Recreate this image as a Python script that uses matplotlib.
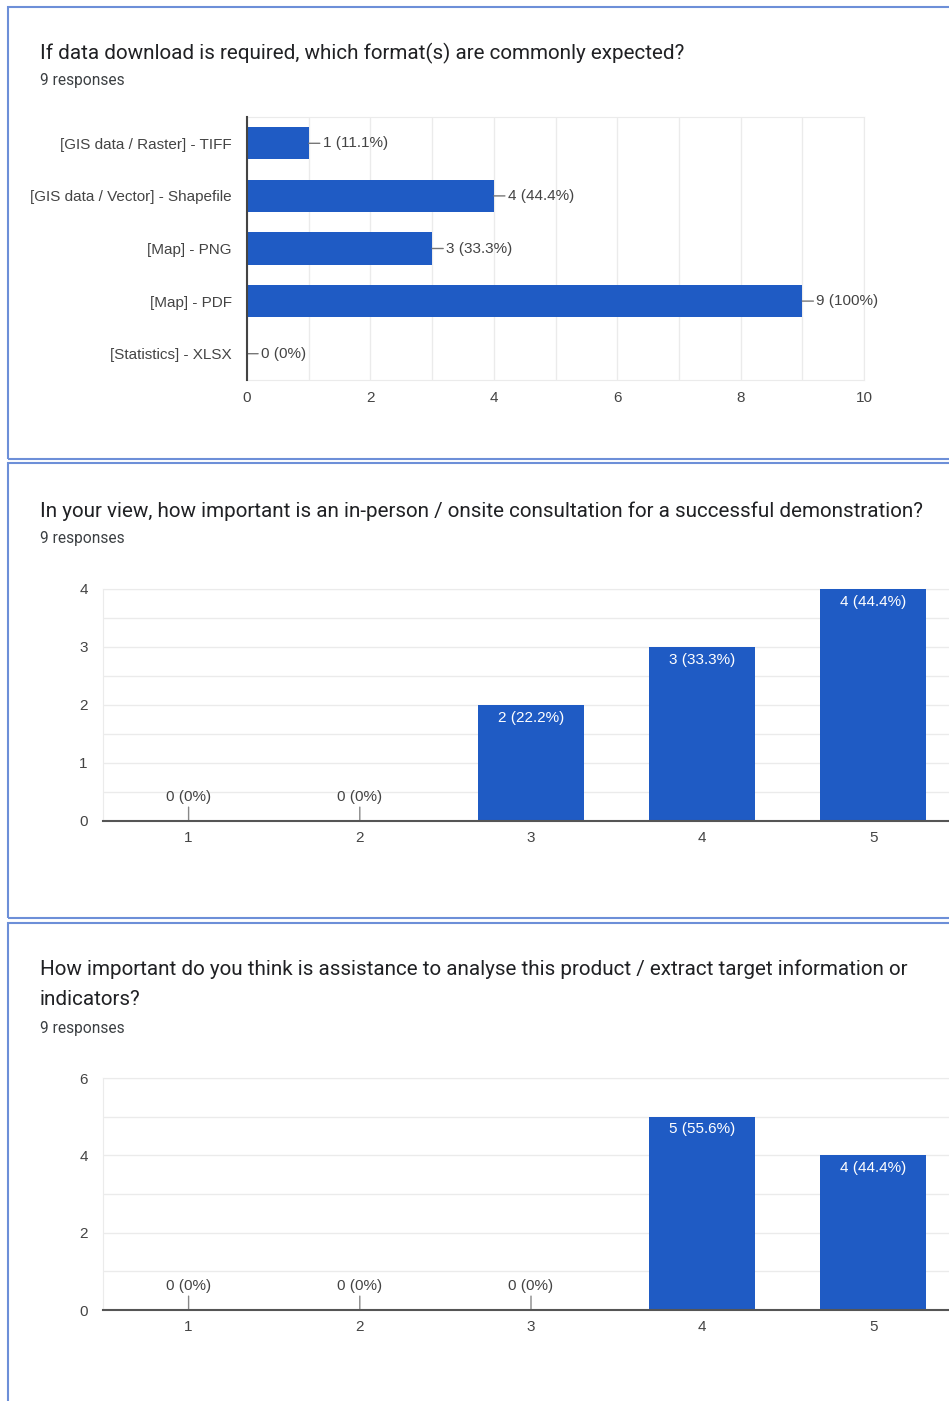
import matplotlib
matplotlib.use("Agg")
import matplotlib.pyplot as plt
from matplotlib.patches import Rectangle
from matplotlib.ticker import MultipleLocator

# --- figure geometry (pixels) ---
W, H = 949, 1401
BAR_COLOR = "#1f5bc4"
BORDER_COLOR = "#6d8fd8"
GRID_COLOR = "#ebebeb"
AXIS_COLOR = "#444444"
TEXT_COLOR = "#202124"
TICK_COLOR = "#444444"
TITLE_FONT = "Roboto"
CHART_FONT = "Liberation Sans"
LABEL_SIZE = 11

# --- data ---
titles = [
    "If data download is required, which format(s) are commonly expected?",
    "In your view, how important is an in-person / onsite consultation for a successful demonstration?",
    "How important do you think is assistance to analyse this product / extract target information or\nindicators?",
]
responses_label = "9 responses"
n_responses = 9

format_labels = ["[GIS data / Raster] - TIFF", "[GIS data / Vector] - Shapefile",
                 "[Map] - PNG", "[Map] - PDF", "[Statistics] - XLSX"]
format_counts = [1, 4, 3, 9, 0]

scale_labels = ["1", "2", "3", "4", "5"]
onsite_counts = [0, 0, 2, 3, 4]
assist_counts = [0, 0, 0, 5, 4]


def px_axes(fig, x0, y0, x1, y1):
    """Add axes using pixel coordinates (top-left origin)."""
    return fig.add_axes([x0 / W, 1 - y1 / H, (x1 - x0) / W, (y1 - y0) / H])


def pct_label(c):
    p = 100 * c / n_responses
    if c == 0:
        return "0 (0%)"
    if c == n_responses:
        return f"{c} (100%)"
    return f"{c} ({p:.1f}%)"


fig = plt.figure(figsize=(W / 100, H / 100), dpi=100)
fig.patch.set_facecolor("white")

# panel borders
for (top, bottom) in [(7, 459), (463, 918), (923, 1420)]:
    fig.patches.append(Rectangle((8 / W, 1 - bottom / H), 1.2, (bottom - top) / H,
                                 transform=fig.transFigure, fill=False,
                                 edgecolor=BORDER_COLOR, linewidth=1.5))

# titles
title_pos = [(53, 80), (511, 539), (984, 1028)]
for t, (ty, ry) in zip(titles, title_pos):
    fig.text(40 / W, 1 - ty / H, t, fontsize=14.9, family=TITLE_FONT, color=TEXT_COLOR,
             ha="left", va="center", linespacing=1.7)
    fig.text(40 / W, 1 - ry / H, responses_label, fontsize=11.2, family=TITLE_FONT,
             color="#3c4043", ha="left", va="center")

# --- chart 1: horizontal bars ---
ax1 = px_axes(fig, 247, 117, 864, 380)
y = list(range(len(format_labels)))
ax1.barh(y, format_counts, height=0.61, color=BAR_COLOR, zorder=3)
ax1.set_xlim(0, 10)
ax1.set_ylim(len(format_labels) - 0.5, -0.5)
ax1.set_yticks(y)
ax1.set_yticklabels(format_labels)
ax1.set_xticks(range(0, 11, 2))
ax1.xaxis.set_minor_locator(MultipleLocator(1))
ax1.grid(axis="x", which="both", color=GRID_COLOR, linewidth=1, zorder=0)
ax1.tick_params(axis="both", which="both", length=0, labelcolor=TICK_COLOR)
ax1.tick_params(axis="y", pad=11, labelsize=LABEL_SIZE)
ax1.tick_params(axis="x", pad=8, labelsize=LABEL_SIZE)
for s in ["top", "bottom", "right"]:
    ax1.spines[s].set_color(GRID_COLOR)
ax1.spines["left"].set_color(AXIS_COLOR)
ax1.spines["left"].set_linewidth(1.5)
ax1.spines["left"].set_zorder(4)
for yi, c in zip(y, format_counts):
    ax1.annotate(pct_label(c), xy=(c, yi), xytext=(10, 0), textcoords="offset points",
                 ha="left", va="center", fontsize=LABEL_SIZE, color=TICK_COLOR,
                 family=CHART_FONT,
                 arrowprops=dict(arrowstyle="-", color="#777777", lw=1,
                                 shrinkA=0, shrinkB=0))
for lab in ax1.get_xticklabels() + ax1.get_yticklabels():
    lab.set_family(CHART_FONT)


# --- charts 2 and 3: vertical bars ---
def column_chart(ax, counts, ymax, major, minor):
    x = list(range(len(scale_labels)))
    ax.bar(x, counts, width=0.62, color=BAR_COLOR, zorder=3)
    ax.set_xlim(-0.5, len(scale_labels) - 0.5)
    ax.set_ylim(0, ymax)
    ax.set_xticks(x)
    ax.set_xticklabels(scale_labels)
    ax.yaxis.set_major_locator(MultipleLocator(major))
    ax.yaxis.set_minor_locator(MultipleLocator(minor))
    ax.grid(axis="y", which="both", color=GRID_COLOR, linewidth=1, zorder=0)
    ax.tick_params(axis="both", which="both", length=0, labelcolor=TICK_COLOR,
                   labelsize=LABEL_SIZE)
    ax.tick_params(axis="y", pad=11)
    ax.tick_params(axis="x", pad=7)
    for s in ["top", "right", "left"]:
        ax.spines[s].set_color(GRID_COLOR)
    ax.spines["bottom"].set_color("#555555")
    ax.spines["bottom"].set_linewidth(1.5)
    ax.spines["bottom"].set_zorder(4)
    for xi, c in zip(x, counts):
        if c == 0:
            ax.annotate(pct_label(c), xy=(xi, 0), xytext=(0, 12), textcoords="offset points",
                        ha="center", va="bottom", fontsize=LABEL_SIZE, color=TICK_COLOR,
                        family=CHART_FONT,
                        arrowprops=dict(arrowstyle="-", color="#888888", lw=1,
                                        shrinkA=0, shrinkB=0))
        else:
            ax.annotate(pct_label(c), xy=(xi, c), xytext=(0, -4), textcoords="offset points",
                        ha="center", va="top", fontsize=LABEL_SIZE, color="white",
                        family=CHART_FONT, zorder=5)
    for lab in ax.get_xticklabels() + ax.get_yticklabels():
        lab.set_family(CHART_FONT)


ax2 = px_axes(fig, 103, 589, 959, 821)
column_chart(ax2, onsite_counts, 4, 1, 0.5)

ax3 = px_axes(fig, 103, 1078, 959, 1310)
column_chart(ax3, assist_counts, 6, 2, 1)

fig.savefig("out.png", dpi=100)
